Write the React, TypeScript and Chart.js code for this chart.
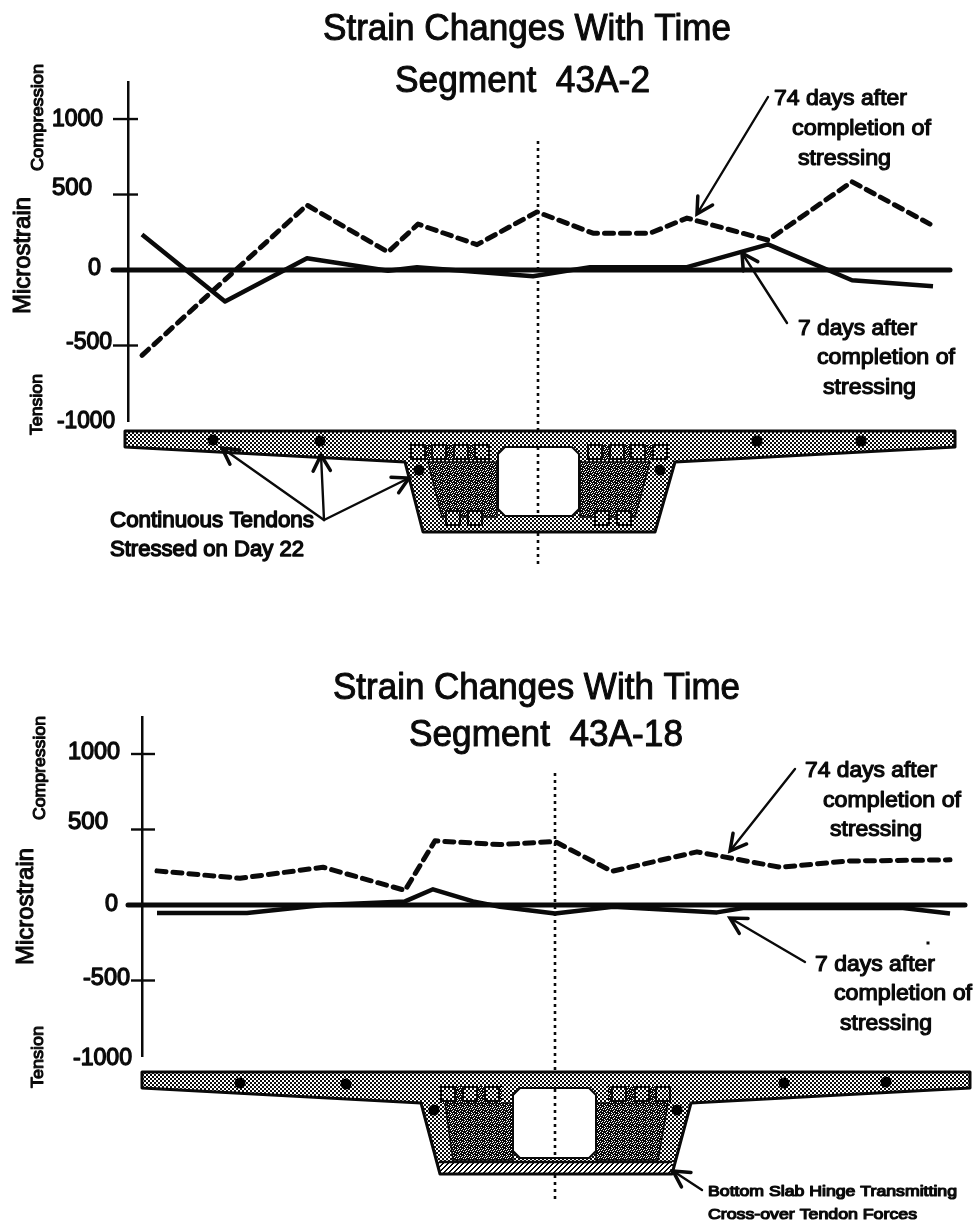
import React, { useEffect, useRef } from "react";
import { Chart, registerables } from "chart.js";

Chart.register(...registerables);

// ---- Data (station = distance from the centreline) ----
const TICK_VALUES = [-1000, -500, 0, 500, 1000];

const A_STATIONS_74 = [-396, -231, -150, -120, -61, -1, 55, 112, 149, 230, 314, 392];
const A_VALUES_74 = [-565, 430, 119, 304, 168, 385, 244, 244, 344, 198, 585, 304];
const A_STATIONS_7 = [-396, -313, -231, -150, -121, -5, 52, 149, 230, 314, 395];
const A_VALUES_7 = [235, -208, 78, -5, 19, -41, 19, 19, 170, -68, -108];

const B_STATIONS_74 = [-398, -315, -232, -150, -120, -55, 0, 57, 142, 225, 292, 395];
const B_VALUES_74 = [226, 177, 250, 97, 425, 400, 420, 223, 352, 250, 291, 299];
const B_STATIONS_7 = [-398, -308, -232, -150, -122, -82, -55, 0, 58, 162, 188, 348, 395];
const B_VALUES_7 = [-53, -53, 0, 24, 104, 24, -12, -56, -12, -49, -20, -20, -56];

// ---- Text and decoration layout (page pixels) ----
type Label = { t: string; x0: number; x1: number; y: number; size: number; bold?: number };
type VLabel = { t: string; x: number; y0: number; y1: number; size: number };
type Arrow = [number, number, number, number];

const PANEL_A = {
  top: 0,
  height: 600,
  axisX: 128,
  right: 950,
  axisTop: 82.5,
  axisBottom: 421,
  xMin: -410,
  xMax: 412,
  yMax: 1242,
  zeroLeft: 113,
  tickLeft: 113,
  tickRight: 138,
  centre: [[141, 431], [447, 516], [533, 565]],
  stations74: A_STATIONS_74,
  values74: A_VALUES_74,
  stations7: A_STATIONS_7,
  values7: A_VALUES_7,
  labels: [
    { t: "Strain Changes With Time", x0: 323, x1: 731, y: 30, size: 36, bold: 1 },
    { t: "Segment  43A-2", x0: 395, x1: 650, y: 82, size: 36, bold: 1 },
    { t: "1000", x0: 52, x1: 103, y: 120, size: 23, bold: 1.3 },
    { t: "500", x0: 52, x1: 92, y: 189, size: 23, bold: 1.3 },
    { t: "0", x0: 88, x1: 101, y: 269, size: 23, bold: 1.3 },
    { t: "-500", x0: 66, x1: 112, y: 343, size: 23, bold: 1.3 },
    { t: "-1000", x0: 57, x1: 115, y: 422, size: 23, bold: 1.3 },
    { t: "74 days after", x0: 774, x1: 907, y: 99, size: 22, bold: 1.2 },
    { t: "completion of", x0: 792, x1: 931, y: 129, size: 22, bold: 1.2 },
    { t: "stressing", x0: 798, x1: 891, y: 159, size: 22, bold: 1.2 },
    { t: "7 days after", x0: 798, x1: 917, y: 329, size: 22, bold: 1.2 },
    { t: "completion of", x0: 817, x1: 955, y: 358, size: 22, bold: 1.2 },
    { t: "stressing", x0: 823, x1: 916, y: 388, size: 22, bold: 1.2 },
    { t: "Continuous Tendons", x0: 110, x1: 314, y: 521, size: 22, bold: 1.4 },
    { t: "Stressed on Day 22", x0: 110, x1: 304, y: 550, size: 22, bold: 1.4 },
  ] as Label[],
  vlabels: [
    { t: "Compression", x: 38, y0: 64, y1: 171, size: 17 },
    { t: "Microstrain", x: 23, y0: 197, y1: 314, size: 24 },
    { t: "Tension", x: 37, y0: 374, y1: 435, size: 17 },
  ] as VLabel[],
  arrows: [
    [768, 97, 697, 214],
    [787, 323, 742, 253],
    [324, 520, 222, 448],
    [324, 520, 321, 455],
    [324, 520, 409, 478],
  ] as Arrow[],
  section: {
    deckTop: 431, tipBottom: 447, left: 125, rightEnd: 955,
    jl: [405, 462], jr: [675, 462], bl: [423, 532], br: [655, 532],
    voidBox: [498, 447, 579, 516],
    darkL: [[428, 462], [497, 462], [497, 517], [442, 517]],
    darkR: [[580, 462], [650, 462], [635, 517], [580, 517]],
    band: [[412, 445, 490, 460], [588, 445, 668, 460]],
    squares: [[418, 452], [439, 452], [461, 452], [482, 452], [595, 452], [617, 452], [638, 452], [660, 452], [453, 518], [475, 518], [602, 518], [624, 518]],
    dots: [[213, 440], [320, 441], [419, 470], [757, 441], [861, 441], [660, 470]],
    hatch: null as null | number[],
  },
  specks: [] as number[][],
};

const PANEL_B = {
  top: 600,
  height: 622,
  axisX: 142,
  right: 965,
  axisTop: 717,
  axisBottom: 1056,
  xMin: -413,
  xMax: 410,
  yMax: 1245,
  zeroLeft: 128,
  tickLeft: 131,
  tickRight: 155,
  centre: [[773, 1072], [1089, 1157], [1175, 1200]],
  stations74: B_STATIONS_74,
  values74: B_VALUES_74,
  stations7: B_STATIONS_7,
  values7: B_VALUES_7,
  labels: [
    { t: "Strain Changes With Time", x0: 333, x1: 740, y: 689, size: 36, bold: 1 },
    { t: "Segment  43A-18", x0: 409, x1: 683, y: 736, size: 36, bold: 1 },
    { t: "1000", x0: 68, x1: 120, y: 753, size: 23, bold: 1.3 },
    { t: "500", x0: 68, x1: 108, y: 823, size: 23, bold: 1.3 },
    { t: "0", x0: 105, x1: 118, y: 905, size: 23, bold: 1.3 },
    { t: "-500", x0: 83, x1: 130, y: 979, size: 23, bold: 1.3 },
    { t: "-1000", x0: 73, x1: 132, y: 1059, size: 23, bold: 1.3 },
    { t: "74 days after", x0: 805, x1: 937, y: 771, size: 22, bold: 1.2 },
    { t: "completion of", x0: 823, x1: 961, y: 801, size: 22, bold: 1.2 },
    { t: "stressing", x0: 830, x1: 922, y: 830, size: 22, bold: 1.2 },
    { t: "7 days after", x0: 815, x1: 935, y: 965, size: 22, bold: 1.2 },
    { t: "completion of", x0: 834, x1: 972, y: 994, size: 22, bold: 1.2 },
    { t: "stressing", x0: 840, x1: 932, y: 1024, size: 22, bold: 1.2 },
    { t: "Bottom Slab Hinge Transmitting", x0: 708, x1: 957, y: 1192, size: 15, bold: 1.2 },
    { t: "Cross-over Tendon Forces", x0: 708, x1: 917, y: 1215, size: 15, bold: 1.2 },
  ] as Label[],
  vlabels: [
    { t: "Compression", x: 40, y0: 716, y1: 820, size: 17 },
    { t: "Microstrain", x: 26, y0: 848, y1: 965, size: 24 },
    { t: "Tension", x: 38, y0: 1026, y1: 1088, size: 17 },
  ] as VLabel[],
  arrows: [
    [795, 769, 730, 851],
    [805, 962, 730, 918],
    [702, 1190, 673, 1171],
  ] as Arrow[],
  section: {
    deckTop: 1072, tipBottom: 1088, left: 142, rightEnd: 970,
    jl: [421, 1103], jr: [691, 1103], bl: [440, 1174], br: [672, 1174],
    voidBox: [513, 1088, 596, 1158],
    darkL: [[445, 1103], [513, 1103], [513, 1160], [453, 1160]],
    darkR: [[596, 1103], [668, 1103], [658, 1160], [596, 1160]],
    band: [[440, 1086, 502, 1103], [608, 1086, 671, 1103]],
    squares: [[448, 1094], [470, 1094], [492, 1094], [619, 1094], [642, 1094], [663, 1094]],
    dots: [[240, 1083], [346, 1084], [434, 1110], [784, 1083], [886, 1082], [677, 1110]],
    hatch: [439, 1162, 672, 1174] as null | number[],
  },
  specks: [[928, 943]] as number[][],
};

type Panel = typeof PANEL_A;

const FONT = '"Liberation Sans", Arial, sans-serif';
const INK = "#0a0a0a";

function makePattern(ctx: CanvasRenderingContext2D, rows: string[]) {
  const c = document.createElement("canvas");
  c.height = rows.length;
  c.width = rows[0].length;
  const g = c.getContext("2d")!;
  rows.forEach((r, y) =>
    [...r].forEach((v, x) => {
      g.fillStyle = v === "#" ? "#0a0a0a" : "#fff";
      g.fillRect(x, y, 1, 1);
    })
  );
  return ctx.createPattern(c, "repeat")!;
}

function fitText(ctx: CanvasRenderingContext2D, l: Label) {
  ctx.save();
  ctx.font = `${l.size}px ${FONT}`;
  ctx.textBaseline = "middle";
  ctx.textAlign = "left";
  const w = ctx.measureText(l.t).width;
  ctx.translate(l.x0, l.y);
  ctx.scale((l.x1 - l.x0) / w, 1);
  ctx.fillStyle = INK;
  ctx.strokeStyle = INK;
  ctx.lineWidth = l.bold ?? 0.5;
  ctx.lineJoin = "round";
  ctx.fillText(l.t, 0, 0);
  ctx.strokeText(l.t, 0, 0);
  ctx.restore();
}

function fitVText(ctx: CanvasRenderingContext2D, l: VLabel) {
  ctx.save();
  ctx.font = `${l.size}px ${FONT}`;
  ctx.textBaseline = "middle";
  ctx.textAlign = "left";
  const w = ctx.measureText(l.t).width;
  ctx.translate(l.x, l.y1);
  ctx.rotate(-Math.PI / 2);
  ctx.scale((l.y1 - l.y0) / w, 1);
  ctx.fillStyle = INK;
  ctx.strokeStyle = INK;
  ctx.lineWidth = 1.1;
  ctx.lineJoin = "round";
  ctx.fillText(l.t, 0, 0);
  ctx.strokeText(l.t, 0, 0);
  ctx.restore();
}

function drawArrow(ctx: CanvasRenderingContext2D, [x0, y0, x1, y1]: Arrow) {
  const a = Math.atan2(y1 - y0, x1 - x0);
  const len = 18;
  ctx.save();
  ctx.strokeStyle = INK;
  ctx.lineCap = "round";
  ctx.lineWidth = 2.4;
  ctx.beginPath();
  ctx.moveTo(x0, y0);
  ctx.lineTo(x1, y1);
  ctx.stroke();
  ctx.lineWidth = 3.5;
  ctx.beginPath();
  ctx.moveTo(x1 - len * Math.cos(a - 0.5), y1 - len * Math.sin(a - 0.5));
  ctx.lineTo(x1, y1);
  ctx.lineTo(x1 - len * Math.cos(a + 0.5), y1 - len * Math.sin(a + 0.5));
  ctx.stroke();
  ctx.restore();
}

function polyPath(ctx: CanvasRenderingContext2D, pts: number[][]) {
  ctx.beginPath();
  pts.forEach(([x, y], i) => (i ? ctx.lineTo(x, y) : ctx.moveTo(x, y)));
  ctx.closePath();
}

function drawSection(ctx: CanvasRenderingContext2D, s: Panel["section"]) {
  const mid = makePattern(ctx, ["##..", "##..", "..##", "..##"]);
  const dark = makePattern(ctx, ["###.#.#", ".#.####", "####.#.", "#.#.###", "#####.#", ".###.##", "##.####"]);
  const hatch = makePattern(ctx, ["##...", "#...#", "...##", "..##.", ".##.."]);
  const outline = () =>
    polyPath(ctx, [
      [s.left, s.deckTop],
      [s.rightEnd, s.deckTop],
      [s.rightEnd, s.tipBottom],
      s.jr,
      s.br,
      s.bl,
      s.jl,
      [s.left, s.tipBottom],
    ]);
  ctx.save();
  outline();
  ctx.fillStyle = mid;
  ctx.fill();
  ctx.strokeStyle = INK;
  for (const d of [s.darkL, s.darkR]) {
    polyPath(ctx, d);
    ctx.fillStyle = dark;
    ctx.fill();
    ctx.lineWidth = 1.5;
    ctx.stroke();
  }
  for (const b of s.band) {
    ctx.fillStyle = dark;
    ctx.fillRect(b[0], b[1], b[2] - b[0], b[3] - b[1]);
  }
  if (s.hatch) {
    ctx.fillStyle = hatch;
    ctx.fillRect(s.hatch[0], s.hatch[1], s.hatch[2] - s.hatch[0], s.hatch[3] - s.hatch[1]);
    ctx.lineWidth = 2.5;
    ctx.beginPath();
    ctx.moveTo(s.hatch[0], s.hatch[1]);
    ctx.lineTo(s.hatch[2], s.hatch[1]);
    ctx.stroke();
  }
  // void with chamfered corners
  const [vx0, vy0, vx1, vy1] = s.voidBox;
  const c = 7;
  polyPath(ctx, [
    [vx0 + c, vy0], [vx1 - c, vy0], [vx1, vy0 + c], [vx1, vy1 - c],
    [vx1 - c, vy1], [vx0 + c, vy1], [vx0, vy1 - c], [vx0, vy0 + c],
  ]);
  ctx.fillStyle = "#fff";
  ctx.fill();
  ctx.lineWidth = 2;
  ctx.stroke();
  // duct squares
  for (const [x, y] of s.squares) {
    ctx.fillStyle = mid;
    ctx.fillRect(x - 6, y - 6, 12, 12);
    ctx.lineWidth = 2;
    ctx.strokeRect(x - 7, y - 7, 14, 14);
  }
  // tendons
  ctx.fillStyle = "#000";
  for (const [x, y] of s.dots) {
    ctx.beginPath();
    ctx.arc(x, y, 5.5, 0, Math.PI * 2);
    ctx.fill();
  }
  outline();
  ctx.lineWidth = 3;
  ctx.lineJoin = "round";
  ctx.stroke();
  ctx.restore();
}

function decorPlugin(p: Panel) {
  return {
    id: "decor",
    beforeDatasetsDraw(chart: any) {
      const ctx: CanvasRenderingContext2D = chart.ctx;
      const y = chart.scales.y;
      ctx.save();
      ctx.translate(0, -p.top);
      ctx.strokeStyle = INK;
      // tick marks cross the axis
      ctx.lineWidth = 2.4;
      for (const tk of y.ticks) {
        if (tk.value === 0 || tk.value === -1000) continue;
        const py = y.getPixelForValue(tk.value) + p.top;
        ctx.beginPath();
        ctx.moveTo(p.tickLeft, py);
        ctx.lineTo(p.tickRight, py);
        ctx.stroke();
      }
      // zero line
      const z = y.getPixelForValue(0) + p.top;
      ctx.lineWidth = 5;
      ctx.lineCap = "round";
      ctx.beginPath();
      ctx.moveTo(p.zeroLeft, z);
      ctx.lineTo(p.right, z);
      ctx.stroke();
      ctx.restore();
    },
    afterDraw(chart: any) {
      const ctx: CanvasRenderingContext2D = chart.ctx;
      ctx.save();
      ctx.translate(0, -p.top);
      drawSection(ctx, p.section);
      // centreline, hidden behind the concrete of the section
      const cx = chart.scales.x.getPixelForValue(0);
      ctx.strokeStyle = INK;
      ctx.lineWidth = 2.6;
      ctx.setLineDash([3, 4]);
      for (const [a, b] of p.centre) {
        ctx.beginPath();
        ctx.moveTo(cx, a);
        ctx.lineTo(cx, b);
        ctx.stroke();
      }
      ctx.setLineDash([]);
      p.arrows.forEach((a) => drawArrow(ctx, a));
      p.labels.forEach((l) => fitText(ctx, l));
      p.vlabels.forEach((l) => fitVText(ctx, l));
      ctx.fillStyle = INK;
      for (const [x, y] of p.specks) ctx.fillRect(x - 1.5, y - 1.5, 3, 3);
      ctx.restore();
    },
  };
}

function toPoints(xs: number[], ys: number[]) {
  return xs.map((x, i) => ({ x, y: ys[i] }));
}

function ChartPanel({ panel }: { panel: Panel }) {
  const ref = useRef<HTMLCanvasElement>(null);
  useEffect(() => {
    const chart = new Chart(ref.current!, {
      type: "line",
      data: {
        datasets: [
          {
            label: "74 days after completion of stressing",
            data: toPoints(panel.stations74, panel.values74),
            borderColor: INK,
            borderWidth: 5,
            borderDash: [9, 7],
            borderCapStyle: "round",
            borderJoinStyle: "round",
            pointRadius: 0,
            clip: false,
          },
          {
            label: "7 days after completion of stressing",
            data: toPoints(panel.stations7, panel.values7),
            borderColor: INK,
            borderWidth: 4.5,
            borderJoinStyle: "round",
            pointRadius: 0,
            clip: false,
          },
        ],
      },
      options: {
        animation: false,
        responsive: false,
        layout: {
          padding: {
            left: panel.axisX,
            right: 977 - panel.right,
            top: panel.axisTop - panel.top,
            bottom: panel.top + panel.height - panel.axisBottom,
          },
        },
        plugins: { legend: { display: false }, tooltip: { enabled: false } },
        scales: {
          x: { type: "linear", display: false, min: panel.xMin, max: panel.xMax },
          y: {
            type: "linear",
            min: -1000,
            max: panel.yMax,
            afterBuildTicks: (s: any) => {
              s.ticks = TICK_VALUES.map((value) => ({ value }));
            },
            grid: { display: false, drawTicks: false },
            border: { display: true, color: INK, width: 2.5 },
            ticks: { display: false },
          },
        },
      },
      plugins: [decorPlugin(panel)],
    } as any);
    return () => chart.destroy();
  }, [panel]);
  return (
    <canvas
      ref={ref}
      width={977}
      height={panel.height}
      style={{ position: "absolute", left: 0, top: panel.top, width: 977, height: panel.height, filter: "blur(0.5px)" }}
    />
  );
}

export default function App() {
  return (
    <div style={{ position: "absolute", left: 0, top: 0, width: 977, height: 1222, background: "#fff", overflow: "hidden" }}>
      <ChartPanel panel={PANEL_A} />
      <ChartPanel panel={PANEL_B} />
    </div>
  );
}
